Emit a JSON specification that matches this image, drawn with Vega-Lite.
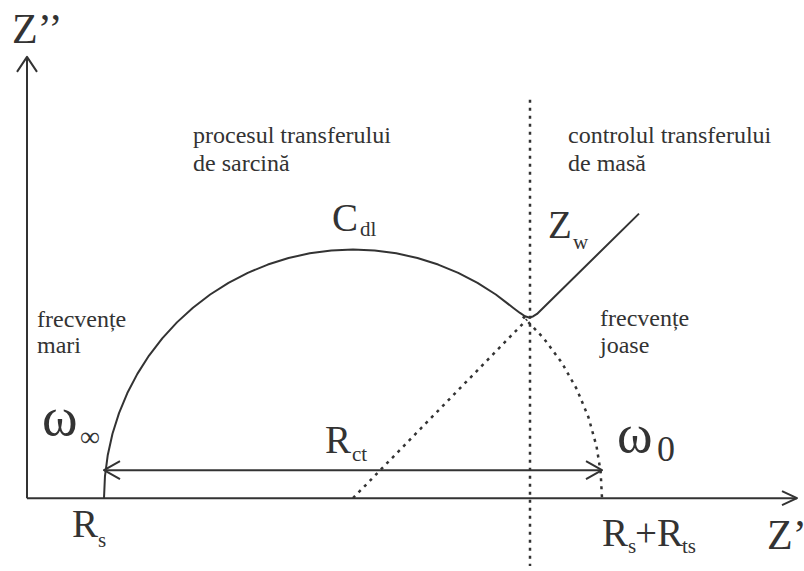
{
  "$schema": "https://vega.github.io/schema/vega-lite/v6.json",
  "width": 804,
  "height": 571,
  "autosize": {"type": "fit", "contains": "padding"},
  "padding": 0,
  "background": "white",
  "config": {"view": {"stroke": null}},
  "datasets": {
    "solid": [
      {"seg": "yaxis", "i": 0, "x": 0, "y": 0},
      {"seg": "yaxis", "i": 1, "x": 0, "y": 4.42},
      {"seg": "yhead", "i": 0, "x": -0.10, "y": 4.27},
      {"seg": "yhead", "i": 1, "x": 0, "y": 4.42},
      {"seg": "yhead", "i": 2, "x": 0.10, "y": 4.27},
      {"seg": "xaxis", "i": 0, "x": 0, "y": 0},
      {"seg": "xaxis", "i": 1, "x": 7.70, "y": 0},
      {"seg": "xhead", "i": 0, "x": 7.55, "y": 0.07},
      {"seg": "xhead", "i": 1, "x": 7.70, "y": 0},
      {"seg": "xhead", "i": 2, "x": 7.55, "y": -0.07},
      {"seg": "rct", "i": 0, "x": 0.77, "y": 0.28},
      {"seg": "rct", "i": 1, "x": 5.75, "y": 0.28},
      {"seg": "rctL", "i": 0, "x": 0.93, "y": 0.37},
      {"seg": "rctL", "i": 1, "x": 0.77, "y": 0.28},
      {"seg": "rctL", "i": 2, "x": 0.93, "y": 0.19},
      {"seg": "rctR", "i": 0, "x": 5.59, "y": 0.37},
      {"seg": "rctR", "i": 1, "x": 5.75, "y": 0.28},
      {"seg": "rctR", "i": 2, "x": 5.59, "y": 0.19},
      {"seg": "arc", "i": 0, "x": 0.77, "y": 0},
      {"seg": "arc", "i": 1, "x": 0.7795, "y": 0.217},
      {"seg": "arc", "i": 2, "x": 0.8078, "y": 0.4324},
      {"seg": "arc", "i": 3, "x": 0.8548, "y": 0.6445},
      {"seg": "arc", "i": 4, "x": 0.9202, "y": 0.8516},
      {"seg": "arc", "i": 5, "x": 1.0033, "y": 1.0523},
      {"seg": "arc", "i": 6, "x": 1.1036, "y": 1.245},
      {"seg": "arc", "i": 7, "x": 1.2203, "y": 1.4282},
      {"seg": "arc", "i": 8, "x": 1.3526, "y": 1.6005},
      {"seg": "arc", "i": 9, "x": 1.4993, "y": 1.7607},
      {"seg": "arc", "i": 10, "x": 1.6595, "y": 1.9074},
      {"seg": "arc", "i": 11, "x": 1.8318, "y": 2.0397},
      {"seg": "arc", "i": 12, "x": 2.015, "y": 2.1564},
      {"seg": "arc", "i": 13, "x": 2.2077, "y": 2.2567},
      {"seg": "arc", "i": 14, "x": 2.4084, "y": 2.3398},
      {"seg": "arc", "i": 15, "x": 2.6155, "y": 2.4052},
      {"seg": "arc", "i": 16, "x": 2.8276, "y": 2.4522},
      {"seg": "arc", "i": 17, "x": 3.043, "y": 2.4805},
      {"seg": "arc", "i": 18, "x": 3.26, "y": 2.49},
      {"seg": "arc", "i": 19, "x": 3.477, "y": 2.4805},
      {"seg": "arc", "i": 20, "x": 3.6924, "y": 2.4522},
      {"seg": "arc", "i": 21, "x": 3.9045, "y": 2.4052},
      {"seg": "arc", "i": 22, "x": 4.1116, "y": 2.3398},
      {"seg": "arc", "i": 23, "x": 4.3123, "y": 2.2567},
      {"seg": "arc", "i": 24, "x": 4.505, "y": 2.1564},
      {"seg": "arc", "i": 25, "x": 4.6882, "y": 2.0397},
      {"seg": "arc", "i": 26, "x": 4.8605, "y": 1.9074},
      {"seg": "arc", "i": 27, "x": 4.93, "y": 1.855},
      {"seg": "arc", "i": 28, "x": 4.98, "y": 1.822},
      {"seg": "arc", "i": 29, "x": 5.02, "y": 1.81},
      {"seg": "arc", "i": 30, "x": 5.06, "y": 1.82},
      {"seg": "arc", "i": 31, "x": 5.10, "y": 1.845},
      {"seg": "arc", "i": 32, "x": 6.12, "y": 2.85}
    ],
    "dotted": [
      {"seg": "limit", "i": 0, "x": 5.03, "y": 3.99},
      {"seg": "limit", "i": 1, "x": 5.03, "y": -0.68},
      {"seg": "diag", "i": 0, "x": 3.26, "y": 0},
      {"seg": "diag", "i": 1, "x": 5.0, "y": 1.79},
      {"seg": "tail", "i": 0, "x": 4.9582, "y": 1.8211},
      {"seg": "tail", "i": 1, "x": 5.1674, "y": 1.6005},
      {"seg": "tail", "i": 2, "x": 5.3483, "y": 1.3562},
      {"seg": "tail", "i": 3, "x": 5.498, "y": 1.0915},
      {"seg": "tail", "i": 4, "x": 5.6143, "y": 0.8107},
      {"seg": "tail", "i": 5, "x": 5.6956, "y": 0.5177},
      {"seg": "tail", "i": 6, "x": 5.7364, "y": 0.2603},
      {"seg": "tail", "i": 7, "x": 5.75, "y": 0}
    ],
    "texts": [
      {"kind": "axis", "t": "Z’’", "x": -0.15, "y": 4.56},
      {"kind": "axis", "t": "Z’", "x": 7.40, "y": -0.51},
      {"kind": "big", "t": "R", "x": 0.45, "y": -0.39},
      {"kind": "big", "t": "R", "x": 5.75, "y": -0.48},
      {"kind": "big", "t": "+R", "x": 6.08, "y": -0.48},
      {"kind": "big", "t": "R", "x": 2.98, "y": 0.45},
      {"kind": "big", "t": "C", "x": 3.05, "y": 2.68},
      {"kind": "big", "t": "Z", "x": 5.21, "y": 2.61},
      {"kind": "sub", "t": "s", "x": 0.71, "y": -0.49},
      {"kind": "sub", "t": "s", "x": 6.01, "y": -0.55},
      {"kind": "sub", "t": "ts", "x": 6.55, "y": -0.55},
      {"kind": "sub", "t": "ct", "x": 3.25, "y": 0.37},
      {"kind": "sub", "t": "dl", "x": 3.33, "y": 2.63},
      {"kind": "sub", "t": "w", "x": 5.46, "y": 2.5},
      {"kind": "omega", "t": "ω", "x": 0.15, "y": 0.63},
      {"kind": "omega", "t": "ω", "x": 5.9, "y": 0.46},
      {"kind": "inf", "t": "∞", "x": 0.53, "y": 0.52},
      {"kind": "zero", "t": "0", "x": 6.3, "y": 0.37},
      {"kind": "label", "t": "procesul transferului", "x": 1.66, "y": 3.56},
      {"kind": "label", "t": "de sarcină", "x": 1.66, "y": 3.28},
      {"kind": "label", "t": "controlul transferului", "x": 5.41, "y": 3.56},
      {"kind": "label", "t": "de masă", "x": 5.41, "y": 3.28},
      {"kind": "label", "t": "frecvențe", "x": 0.1, "y": 1.71},
      {"kind": "label", "t": "mari", "x": 0.1, "y": 1.45},
      {"kind": "label", "t": "frecvențe", "x": 5.73, "y": 1.72},
      {"kind": "label", "t": "joase", "x": 5.73, "y": 1.45}
    ]
  },
  "encoding": {
    "x": {"field": "x", "type": "quantitative", "scale": {"domain": [-0.27, 7.77], "nice": false, "zero": false}, "axis": null},
    "y": {"field": "y", "type": "quantitative", "scale": {"domain": [-0.72, 4.99], "nice": false, "zero": false}, "axis": null}
  },
  "layer": [
    {
      "data": {"name": "solid"},
      "mark": {"type": "line", "stroke": "#333333", "strokeWidth": 2, "strokeJoin": "round"},
      "encoding": {"detail": {"field": "seg"}, "order": {"field": "i", "type": "quantitative"}}
    },
    {
      "data": {"name": "dotted"},
      "mark": {"type": "line", "stroke": "#333333", "strokeWidth": 2.5, "strokeDash": [3, 5]},
      "encoding": {"detail": {"field": "seg"}, "order": {"field": "i", "type": "quantitative"}}
    },
    {
      "data": {"name": "texts"},
      "transform": [{"filter": "datum.kind === 'axis'"}],
      "mark": {"type": "text", "font": "Liberation Serif", "fontSize": 42, "align": "left", "baseline": "alphabetic", "color": "#333333", "clip": true},
      "encoding": {"text": {"field": "t"}}
    },
    {
      "data": {"name": "texts"},
      "transform": [{"filter": "datum.kind === 'big'"}],
      "mark": {"type": "text", "font": "Liberation Serif", "fontSize": 39, "align": "left", "baseline": "alphabetic", "color": "#333333"},
      "encoding": {"text": {"field": "t"}}
    },
    {
      "data": {"name": "texts"},
      "transform": [{"filter": "datum.kind === 'sub'"}],
      "mark": {"type": "text", "font": "Liberation Serif", "fontSize": 21, "align": "left", "baseline": "alphabetic", "color": "#333333"},
      "encoding": {"text": {"field": "t"}}
    },
    {
      "data": {"name": "texts"},
      "transform": [{"filter": "datum.kind === 'omega'"}],
      "mark": {"type": "text", "font": "Liberation Serif", "fontSize": 54, "align": "left", "baseline": "alphabetic", "color": "#333333"},
      "encoding": {"text": {"field": "t"}}
    },
    {
      "data": {"name": "texts"},
      "transform": [{"filter": "datum.kind === 'inf'"}],
      "mark": {"type": "text", "font": "Liberation Serif", "fontSize": 28, "align": "left", "baseline": "alphabetic", "color": "#333333"},
      "encoding": {"text": {"field": "t"}}
    },
    {
      "data": {"name": "texts"},
      "transform": [{"filter": "datum.kind === 'zero'"}],
      "mark": {"type": "text", "font": "Liberation Serif", "fontSize": 36, "align": "left", "baseline": "alphabetic", "color": "#333333"},
      "encoding": {"text": {"field": "t"}}
    },
    {
      "data": {"name": "texts"},
      "transform": [{"filter": "datum.kind === 'label'"}],
      "mark": {"type": "text", "font": "Liberation Serif", "fontSize": 24, "align": "left", "baseline": "alphabetic", "color": "#333333"},
      "encoding": {"text": {"field": "t"}}
    }
  ]
}
